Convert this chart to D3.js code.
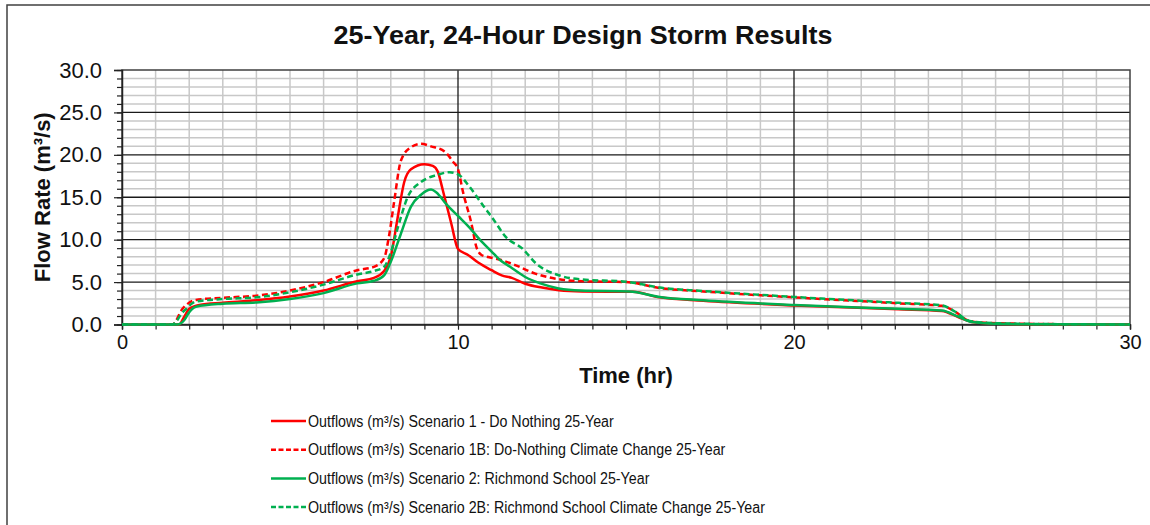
<html>
<head>
<script src="https://cdn.jsdelivr.net/npm/d3@7"></script>
<style>
body { margin:0; padding:0; background:white; }
text { font-family: "Liberation Sans", Arial, sans-serif; }
</style>
</head>
<body>
<div id="chart"></div>
<script>
// hours / flow (m3/s)
var scenario1 = [[0,0],[1.7,0],[1.85,0.9],[2,1.85],[2.3,2.3],[3,2.55],[4,2.85],[5,3.3],[6,4.0],[7,5.1],[7.5,5.5],[7.8,6.3],[8,8.0],[8.2,12.5],[8.4,16.8],[8.6,18.3],[9.0,18.9],[9.25,18.7],[9.4,18.0],[9.55,15.8],[9.8,11.9],[10.0,8.9],[10.3,8.2],[10.6,7.3],[11,6.4],[11.3,5.8],[11.6,5.5],[12,4.8],[12.5,4.35],[13,4.05],[13.7,3.9],[15.2,3.85],[16,3.2],[17.3,2.8],[20,2.25],[23.1,1.8],[24.4,1.6],[24.9,0.85],[25.3,0.3],[26,0.1],[27,0.03],[30,0]];
var scenario1B = [[0,0],[1.5,0],[1.8,1.85],[2.2,2.9],[3,3.15],[4,3.4],[5,4.0],[6,5.0],[7,6.4],[7.5,6.8],[7.8,7.8],[7.95,10.5],[8.1,14.5],[8.3,19.3],[8.6,20.9],[8.9,21.3],[9.2,21.0],[9.6,20.4],[9.85,19.2],[10.0,18.3],[10.15,15.6],[10.4,11.9],[10.55,9.1],[10.7,8.2],[10.9,7.95],[11.2,7.7],[11.7,7.0],[12.3,6.0],[12.9,5.4],[13.7,5.1],[15.0,5.0],[16,4.3],[17.3,3.9],[20,3.2],[23.1,2.5],[24.4,2.2],[24.8,1.5],[25.2,0.45],[25.7,0.2],[27.6,0.05],[30,0]];
var scenario2 = [[0,0],[1.65,0],[1.85,0.5],[2,1.45],[2.2,2.1],[3,2.45],[4,2.6],[5,3.0],[6,3.7],[7,4.85],[7.5,5.15],[7.8,5.8],[8,7.4],[8.3,10.7],[8.6,13.9],[8.9,15.3],[9.2,15.9],[9.35,15.6],[9.65,14.2],[10,12.8],[10.35,11.4],[10.65,10.0],[10.8,9.4],[11,8.6],[11.25,7.6],[11.55,6.8],[12,5.6],[12.45,4.85],[13,4.25],[13.65,4.0],[15.1,3.9],[16,3.25],[17.3,2.85],[20,2.3],[23.1,1.85],[24.4,1.65],[24.9,0.9],[25.3,0.3],[26,0.1],[27,0.03],[30,0]];
var scenario2B = [[0,0],[1.5,0],[1.8,1.4],[2.2,2.7],[3,3.0],[4,3.2],[5,3.8],[6,4.7],[7,5.9],[7.5,6.3],[7.8,6.8],[8.0,8.5],[8.2,11.3],[8.5,15.0],[8.9,16.8],[9.35,17.6],[9.75,17.95],[10,17.7],[10.35,16.2],[10.75,14.0],[11,12.7],[11.45,10.2],[11.9,9.0],[12.35,7.1],[13,5.8],[13.7,5.3],[15,5.05],[16,4.35],[17.3,3.95],[20,3.25],[23.1,2.55],[24.4,2.25],[24.8,1.5],[25.2,0.45],[25.7,0.2],[27.6,0.05],[30,0]];

var seriesNames = ["Outflows (m\u00b3/s) Scenario 1 - Do Nothing 25-Year",
  "Outflows (m\u00b3/s) Scenario 1B: Do-Nothing Climate Change 25-Year",
  "Outflows (m\u00b3/s) Scenario 2: Richmond School 25-Year",
  "Outflows (m\u00b3/s) Scenario 2B: Richmond School Climate Change 25-Year"];
var seriesData = [scenario1, scenario1B, scenario2, scenario2B];
var xTicks = [0, 10, 20, 30];
var yTicks = [0, 5, 10, 15, 20, 25, 30];

var colors = ["#ff0000", "#ff0000", "#00b050", "#00b050"];
var dashes = [null, "6,3.5", null, "6,3.5"];

var W = 1150, H = 525;
var pLeft = 122, pRight = 1130, pTop = 70, pBottom = 324.5;

var svg = d3.select("#chart").append("svg")
  .attr("width", W)
  .attr("height", H);

svg.append("rect")
  .attr("x", 7).attr("y", 5)
  .attr("width", 1160).attr("height", 560)
  .attr("fill", "white")
  .attr("stroke", "#404040")
  .attr("stroke-width", 1.5);

var x = d3.scaleLinear().domain([0, 30]).range([pLeft, pRight]);
var y = d3.scaleLinear().domain([0, 30]).range([pBottom, pTop]);

// minor grid every 1
svg.append("g").selectAll("line")
  .data(d3.range(1, 30).filter(function(d){ return d % 10 != 0; }))
  .enter().append("line")
  .attr("x1", function(d){ return x(d); }).attr("x2", function(d){ return x(d); })
  .attr("y1", pTop).attr("y2", pBottom)
  .attr("stroke", "#c8c8c8").attr("stroke-width", 1.5);

svg.append("g").selectAll("line")
  .data(d3.range(1, 30).filter(function(d){ return d % 5 != 0; }))
  .enter().append("line")
  .attr("x1", pLeft).attr("x2", pRight)
  .attr("y1", function(d){ return y(d); }).attr("y2", function(d){ return y(d); })
  .attr("stroke", "#c8c8c8").attr("stroke-width", 1.5);

// major grid
svg.append("g").selectAll("line")
  .data([10, 20])
  .enter().append("line")
  .attr("x1", function(d){ return x(d); }).attr("x2", function(d){ return x(d); })
  .attr("y1", pTop).attr("y2", pBottom)
  .attr("stroke", "#1a1a1a").attr("stroke-width", 1.3);

svg.append("g").selectAll("line")
  .data([5, 10, 15, 20, 25])
  .enter().append("line")
  .attr("x1", pLeft).attr("x2", pRight)
  .attr("y1", function(d){ return y(d); }).attr("y2", function(d){ return y(d); })
  .attr("stroke", "#1a1a1a").attr("stroke-width", 1.3);

// plot frame
svg.append("rect")
  .attr("x", pLeft).attr("y", pTop)
  .attr("width", pRight - pLeft).attr("height", pBottom - pTop)
  .attr("fill", "none")
  .attr("stroke", "#404040")
  .attr("stroke-width", 1.5);

// axes
var yMinor = d3.axisLeft(y).tickValues(d3.range(0, 31, 1)).tickSize(5).tickFormat("");
svg.append("g").attr("transform", "translate(" + pLeft + ",0)").call(yMinor)
  .call(function(g){ g.select(".domain").remove(); g.selectAll("line").attr("stroke", "#222").attr("stroke-width", 1.2); });

var yAxis = d3.axisLeft(y).tickValues(yTicks).tickSize(8).tickPadding(12)
  .tickFormat(d3.format(".1f"));
svg.append("g").attr("transform", "translate(" + pLeft + ",0)").call(yAxis)
  .call(function(g){
    g.select(".domain").attr("stroke", "#222").attr("stroke-width", 1.5);
    g.selectAll("line").attr("stroke", "#222").attr("stroke-width", 1.2);
    g.selectAll("text").attr("font-size", "22px").attr("fill", "#111")
      .attr("font-family", "'Liberation Sans', Arial, sans-serif");
  });

var xMinor = d3.axisBottom(x).tickValues(d3.range(0, 31, 1)).tickSize(5).tickFormat("");
svg.append("g").attr("transform", "translate(0," + pBottom + ")").call(xMinor)
  .call(function(g){ g.select(".domain").attr("stroke", "#222").attr("stroke-width", 1.5); g.selectAll("line").attr("stroke", "#222").attr("stroke-width", 1.2); });

var xAxis = d3.axisBottom(x).tickValues(xTicks).tickSize(5).tickPadding(5);
svg.append("g").attr("transform", "translate(0," + pBottom + ")").call(xAxis)
  .call(function(g){
    g.select(".domain").remove();
    g.selectAll("line").attr("stroke", "#222");
    g.selectAll("text").attr("font-size", "20px").attr("fill", "#111")
      .attr("font-family", "'Liberation Sans', Arial, sans-serif");
  });

// lines
var line = d3.line()
  .x(function(d){ return x(d[0]); })
  .y(function(d){ return y(d[1]); })
  .curve(d3.curveMonotoneX);

svg.append("g").selectAll("path")
  .data(seriesData)
  .enter().append("path")
  .attr("d", line)
  .attr("fill", "none")
  .attr("stroke", function(d, i){ return colors[i]; })
  .attr("stroke-width", 2.5)
  .attr("stroke-dasharray", function(d, i){ return dashes[i]; });

// titles
svg.append("text")
  .attr("x", 583).attr("y", 44)
  .attr("text-anchor", "middle")
  .attr("font-size", "25px").attr("font-weight", "bold").attr("fill", "#111")
  .attr("textLength", 499).attr("lengthAdjust", "spacingAndGlyphs")
  .text("25-Year, 24-Hour Design Storm Results");

svg.append("text")
  .attr("x", (pLeft + pRight) / 2).attr("y", 383)
  .attr("text-anchor", "middle")
  .attr("font-size", "22px").attr("font-weight", "bold").attr("fill", "#111")
  .text("Time (hr)");

svg.append("text")
  .attr("transform", "translate(50," + ((pTop + pBottom) / 2) + ") rotate(-90)")
  .attr("text-anchor", "middle")
  .attr("font-size", "22px").attr("font-weight", "bold").attr("fill", "#111")
  .text("Flow Rate (m\u00b3/s)");

// legend
var legend = svg.append("g").selectAll("g")
  .data(seriesNames)
  .enter().append("g")
  .attr("transform", function(d, i){ return "translate(271," + (421 + i * 28.7) + ")"; });

legend.append("line")
  .attr("x1", 0).attr("x2", 35)
  .attr("stroke", function(d, i){ return colors[i]; })
  .attr("stroke-width", 2.5)
  .attr("stroke-dasharray", function(d, i){ return dashes[i] ? "5,2.5" : null; });

legend.append("text")
  .attr("x", 37).attr("y", 5.5)
  .attr("font-size", "16px").attr("fill", "#111")
  .text(function(d){ return d; })
  .each(function(){
    var w = this.getComputedTextLength();
    d3.select(this).attr("textLength", w * 0.89).attr("lengthAdjust", "spacingAndGlyphs");
  });
</script>
</body>
</html>
